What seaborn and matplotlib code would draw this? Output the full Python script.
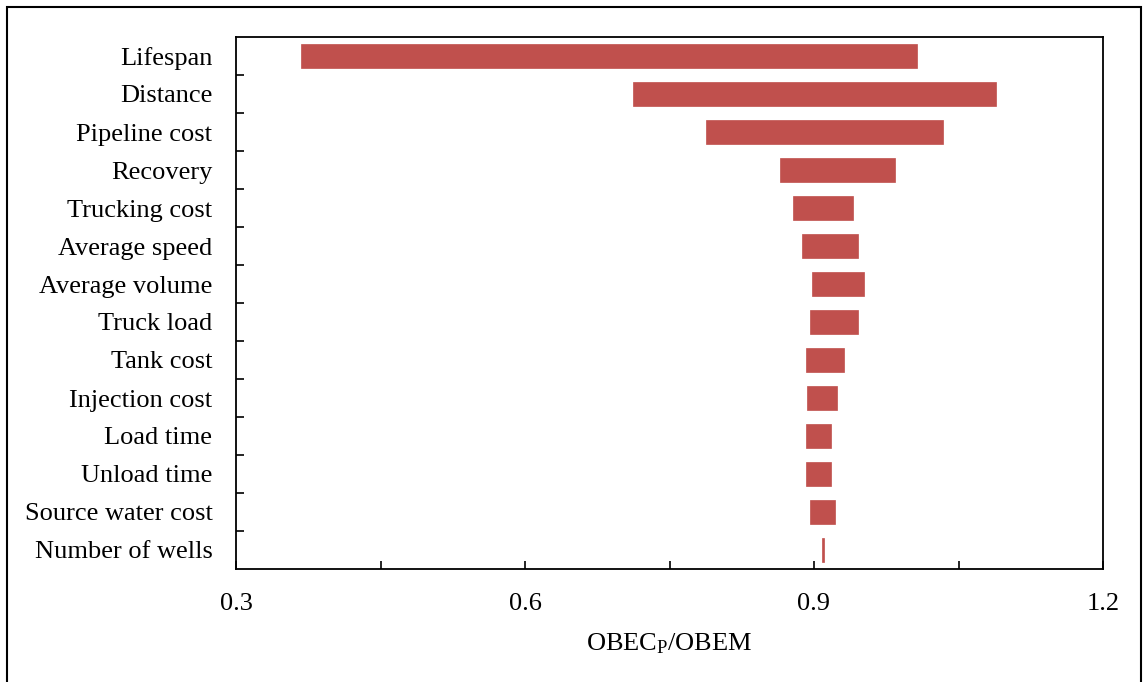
import numpy as np
import pandas as pd
import seaborn as sns
import matplotlib.pyplot as plt
from matplotlib.patches import Rectangle

factors = ["Lifespan", "Distance", "Pipeline cost", "Recovery", "Trucking cost",
           "Average speed", "Average volume", "Truck load", "Tank cost",
           "Injection cost", "Load time", "Unload time", "Source water cost",
           "Number of wells"]
low = [0.367, 0.712, 0.788, 0.865, 0.878, 0.888, 0.898, 0.896, 0.892,
       0.893, 0.892, 0.892, 0.896, 0.9085]
high = [1.007, 1.089, 1.034, 0.984, 0.940, 0.946, 0.952, 0.946, 0.931,
        0.924, 0.918, 0.918, 0.922, 0.9105]

df = pd.DataFrame({"factor": factors, "low": low, "high": high})
df["span"] = df["high"] - df["low"]

sns.set_style("white")
plt.rcParams["font.family"] = ["Liberation Serif", "DejaVu Serif"]
plt.rcParams["mathtext.default"] = "regular"
for k in ["text.color", "axes.labelcolor", "xtick.color", "ytick.color"]:
    plt.rcParams[k] = "black"

fig = plt.figure(figsize=(11.43, 6.82), dpi=100)
ax = fig.add_axes([236/1143, 1-569/682, (1103-236)/1143, (569-37)/682])

sns.barplot(data=df, x="span", y="factor", left=df["low"].values,
            color="#C0504D", saturation=1, width=0.62, ax=ax, orient="h",
            edgecolor="#C0504D", linewidth=0.5)

ax.set_xlim(0.3, 1.2)
ax.set_ylim(len(factors) - 0.5, -0.5)
ax.set_xticks([0.3, 0.6, 0.9, 1.2])
ax.set_xticklabels(["0.3", "0.6", "0.9", "1.2"])
ax.set_xticks([0.45, 0.75, 1.05], minor=True)
ax.set_yticks(np.arange(len(factors)))
ax.set_yticklabels(factors)
ax.set_yticks(np.arange(len(factors) - 1) + 0.5, minor=True)

ax.tick_params(axis="x", which="both", direction="in", length=6, width=1.2,
               labelsize=19, pad=17, bottom=True)
ax.tick_params(axis="y", which="major", length=0, labelsize=19, pad=17)
ax.tick_params(axis="y", which="minor", direction="in", length=6, width=1.2, left=True)

for s in ax.spines.values():
    s.set_linewidth(1.3)
    s.set_color("black")

ax.set_xlabel("OBEC$_{P}$/OBEM", fontsize=19, labelpad=12)
ax.set_ylabel("")

fig.patches.append(Rectangle((7/1143, -0.01), 1 - 9/1143, 1 - 7/682 + 0.01,
                             transform=fig.transFigure, fill=False,
                             edgecolor="black", linewidth=1.5))

fig.savefig("out.png", dpi=100)
